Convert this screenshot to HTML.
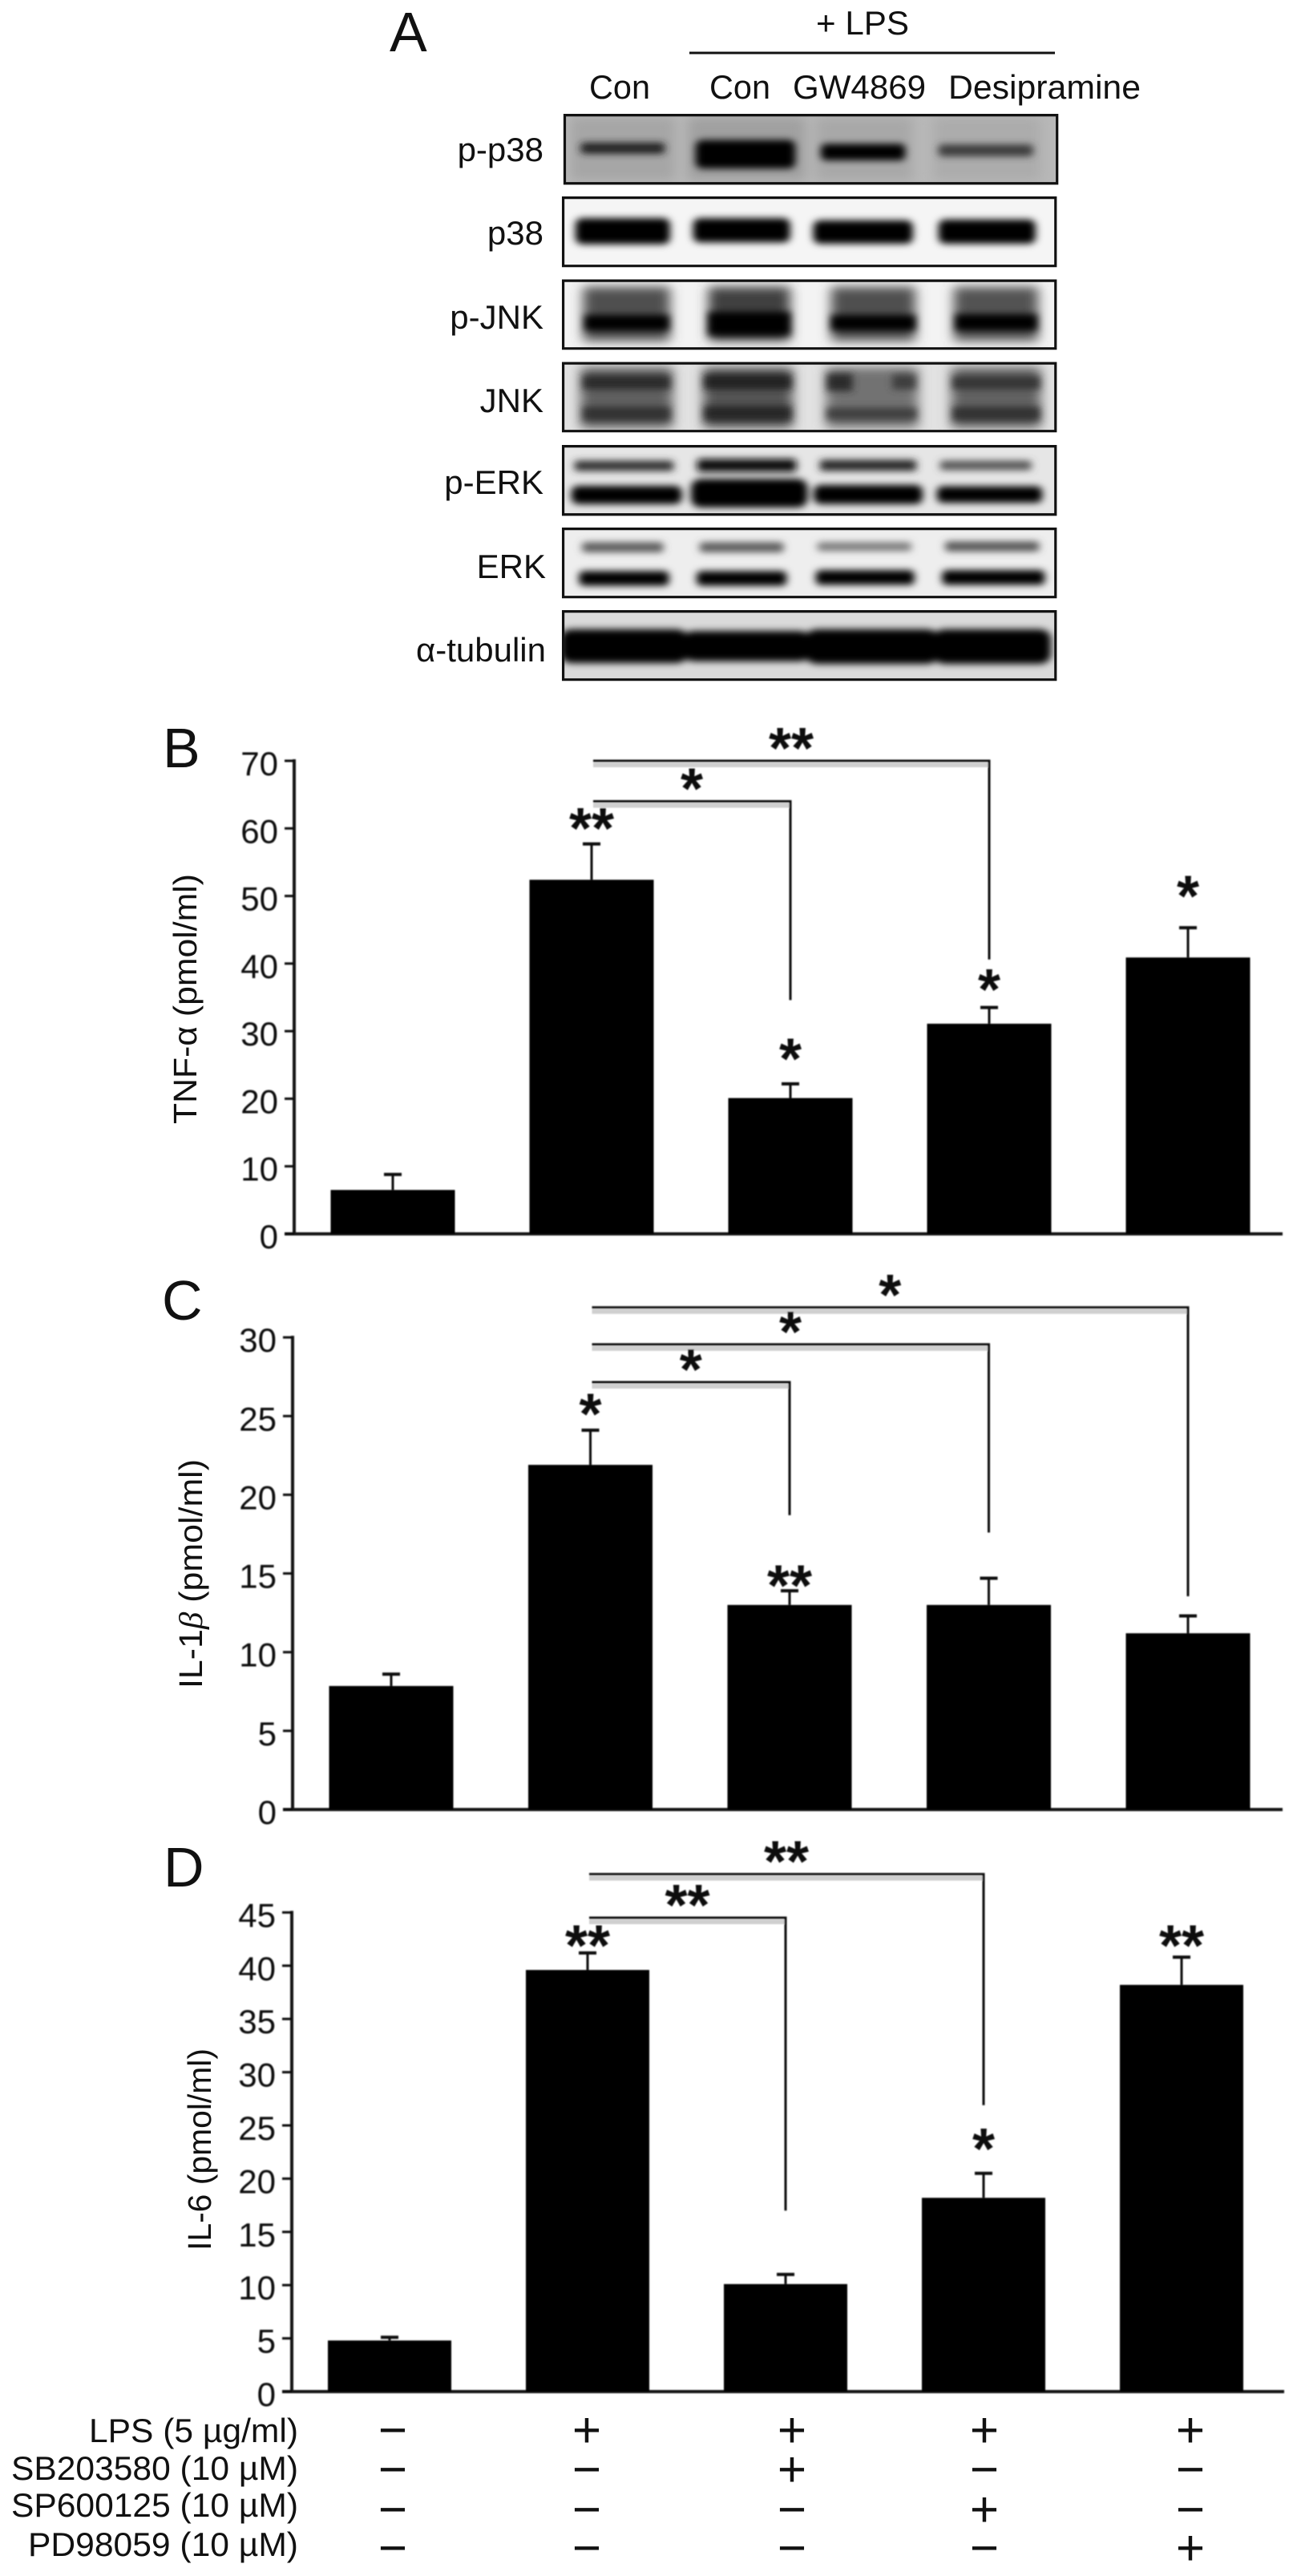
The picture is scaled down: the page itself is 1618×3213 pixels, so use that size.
<!DOCTYPE html>
<html lang="en">
<head>
<meta charset="utf-8">
<title>MAPK blots and cytokine bar charts</title>
<style>
html,body{margin:0;padding:0;background:#fff}
svg{display:block;font-family:"Liberation Sans",Arial,sans-serif}
text{fill:#111}
.axis-line{stroke:#151515;stroke-width:4;fill:none}
.thin-line{stroke:#111;stroke-width:3;fill:none}
.outline{fill:none;stroke:#111;stroke-width:3.2;vector-effect:non-scaling-stroke}
</style>
</head>
<body>
<svg id="figure" xmlns="http://www.w3.org/2000/svg" width="1618" height="3213" viewBox="0 0 1618 3213">
<defs>
  <filter id="b2" filterUnits="userSpaceOnUse" x="0" y="0" width="1618" height="1700"><feGaussianBlur stdDeviation="8"/></filter>
  <filter id="b3" filterUnits="userSpaceOnUse" x="0" y="0" width="1618" height="1700"><feGaussianBlur stdDeviation="12"/></filter>
  <filter id="soft" filterUnits="userSpaceOnUse" x="0" y="0" width="1618" height="3213"><feGaussianBlur stdDeviation="0.7"/></filter>
  <clipPath id="c1"><rect x="399" y="265" width="963" height="157"/></clipPath>
  <clipPath id="c2"><rect x="396" y="455" width="963" height="157"/></clipPath>
  <clipPath id="c3"><rect x="396" y="646" width="963" height="156"/></clipPath>
  <clipPath id="c4"><rect x="396" y="836" width="963" height="156"/></clipPath>
  <clipPath id="c5"><rect x="396" y="1027" width="963" height="157"/></clipPath>
  <clipPath id="c6"><rect x="396" y="1217" width="963" height="157"/></clipPath>
  <clipPath id="c7"><rect x="396" y="1407" width="963" height="157"/></clipPath>
</defs>

<g>
  <text x="486" y="64" font-size="70">A</text>
  <text x="1018" y="43" font-size="42" textLength="116" lengthAdjust="spacingAndGlyphs">+ LPS</text>
  <line class="thin-line" x1="860" y1="66" x2="1316" y2="66"/>
  <text x="735" y="123" font-size="42" textLength="76" lengthAdjust="spacingAndGlyphs">Con</text>
  <text x="885" y="123" font-size="42" textLength="76" lengthAdjust="spacingAndGlyphs">Con</text>
  <text x="989" y="123" font-size="42" textLength="166" lengthAdjust="spacingAndGlyphs">GW4869</text>
  <text x="1183" y="123" font-size="42" textLength="240" lengthAdjust="spacingAndGlyphs">Desipramine</text>

  <g font-size="42" text-anchor="end">
    <text x="678" y="201">p-p38</text>
    <text x="678" y="305">p38</text>
    <text x="678" y="410">p-JNK</text>
    <text x="678" y="514">JNK</text>
    <text x="678" y="616">p-ERK</text>
    <text x="681" y="721">ERK</text>
    <text x="681" y="825">α-tubulin</text>
  </g>

  <g transform="translate(450,0) scale(0.6378,0.542)">
    <g>
      <g clip-path="url(#c1)">
        <rect x="399" y="265" width="963" height="157" fill="#b8b8b8"/>
        <g filter="url(#b3)">
          <rect x="410" y="270" width="205" height="145" fill="#a6a6a6"/>
          <rect x="640" y="270" width="230" height="145" fill="#a0a0a0"/>
          <rect x="890" y="270" width="190" height="145" fill="#a8a8a8"/>
          <rect x="1120" y="270" width="210" height="145" fill="#acacac"/>
        </g>
        <g filter="url(#b2)">
          <rect x="430" y="328" width="165" height="26" rx="8" fill="#222"/>
          <rect x="655" y="322" width="195" height="66" rx="14" fill="#000"/>
          <rect x="900" y="331" width="165" height="38" rx="10" fill="#000"/>
          <rect x="1130" y="332" width="185" height="28" rx="8" fill="#3c3c3c"/>
        </g>
      </g>
      <rect class="outline" x="399" y="265" width="963" height="157"/>
    </g>
    <g>
      <g clip-path="url(#c2)">
        <rect x="396" y="455" width="963" height="157" fill="#f5f5f5"/>
        <g filter="url(#b2)">
          <rect x="420" y="502" width="185" height="60" rx="14" fill="#000"/>
          <rect x="650" y="502" width="190" height="56" rx="14" fill="#000"/>
          <rect x="885" y="507" width="195" height="54" rx="14" fill="#000"/>
          <rect x="1130" y="505" width="190" height="56" rx="14" fill="#000"/>
        </g>
      </g>
      <rect class="outline" x="396" y="455" width="963" height="157"/>
    </g>
    <g>
      <g clip-path="url(#c3)">
        <rect x="396" y="646" width="963" height="156" fill="#f3f3f3"/>
        <g filter="url(#b3)">
          <rect x="435" y="660" width="170" height="125" fill="#505050"/>
          <rect x="680" y="660" width="160" height="125" fill="#404040"/>
          <rect x="920" y="660" width="165" height="125" fill="#505050"/>
          <rect x="1160" y="660" width="165" height="125" fill="#525252"/>
        </g>
        <g filter="url(#b2)">
          <rect x="438" y="725" width="165" height="36" fill="#000"/>
          <rect x="680" y="718" width="160" height="54" fill="#000"/>
          <rect x="920" y="725" width="165" height="36" fill="#000"/>
          <rect x="1163" y="723" width="160" height="38" fill="#050505"/>
        </g>
      </g>
      <rect class="outline" x="396" y="646" width="963" height="156"/>
    </g>
    <g>
      <g clip-path="url(#c4)">
        <rect x="396" y="836" width="963" height="156" fill="#e2e2e2"/>
        <g filter="url(#b3)">
          <rect x="430" y="845" width="180" height="140" fill="#606060"/>
          <rect x="670" y="845" width="175" height="140" fill="#555"/>
          <rect x="910" y="845" width="180" height="140" fill="#727272"/>
          <rect x="1155" y="845" width="175" height="140" fill="#626262"/>
        </g>
        <g filter="url(#b2)">
          <rect x="435" y="864" width="170" height="32" fill="#2c2c2c"/>
          <rect x="435" y="936" width="170" height="32" fill="#333"/>
          <rect x="672" y="862" width="170" height="34" fill="#222"/>
          <rect x="672" y="934" width="170" height="34" fill="#282828"/>
          <rect x="912" y="860" width="50" height="40" fill="#2a2a2a"/>
          <rect x="1040" y="862" width="45" height="34" fill="#3c3c3c"/>
          <rect x="912" y="938" width="175" height="28" fill="#404040"/>
          <rect x="1158" y="866" width="170" height="30" fill="#363636"/>
          <rect x="1158" y="936" width="170" height="32" fill="#333"/>
        </g>
      </g>
      <rect class="outline" x="396" y="836" width="963" height="156"/>
    </g>
    <g>
      <g clip-path="url(#c5)">
        <rect x="396" y="1027" width="963" height="157" fill="#e6e6e6"/>
        <g filter="url(#b2)">
          <rect x="418" y="1060" width="194" height="24" rx="6" fill="#333"/>
          <rect x="658" y="1056" width="194" height="30" rx="6" fill="#111"/>
          <rect x="898" y="1058" width="189" height="26" rx="6" fill="#2a2a2a"/>
          <rect x="1133" y="1060" width="179" height="22" rx="6" fill="#555"/>
          <rect x="412" y="1118" width="216" height="42" rx="14" fill="#000"/>
          <rect x="646" y="1102" width="228" height="66" rx="20" fill="#000"/>
          <rect x="886" y="1116" width="213" height="44" rx="14" fill="#000"/>
          <rect x="1127" y="1119" width="206" height="38" rx="12" fill="#000"/>
        </g>
      </g>
      <rect class="outline" x="396" y="1027" width="963" height="157"/>
    </g>
    <g>
      <g clip-path="url(#c6)">
        <rect x="396" y="1217" width="963" height="157" fill="#eeeeee"/>
        <g filter="url(#b2)">
          <rect x="433" y="1248" width="159" height="23" rx="6" fill="#5a5a5a"/>
          <rect x="663" y="1248" width="164" height="23" rx="6" fill="#5a5a5a"/>
          <rect x="893" y="1248" width="184" height="20" rx="6" fill="#787878"/>
          <rect x="1143" y="1246" width="184" height="23" rx="6" fill="#555"/>
          <rect x="427" y="1314" width="176" height="34" rx="10" fill="#000"/>
          <rect x="657" y="1314" width="176" height="34" rx="10" fill="#000"/>
          <rect x="890" y="1312" width="193" height="34" rx="10" fill="#000"/>
          <rect x="1137" y="1312" width="201" height="34" rx="10" fill="#000"/>
        </g>
      </g>
      <rect class="outline" x="396" y="1217" width="963" height="157"/>
    </g>
    <g>
      <g clip-path="url(#c7)">
        <rect x="396" y="1407" width="963" height="157" fill="#dadada"/>
        <g filter="url(#b2)">
          <rect x="390" y="1448" width="250" height="78" rx="22" fill="#000"/>
          <rect x="630" y="1452" width="250" height="70" rx="22" fill="#000"/>
          <rect x="870" y="1448" width="260" height="80" rx="22" fill="#000"/>
          <rect x="1120" y="1448" width="230" height="80" rx="22" fill="#000"/>
        </g>
      </g>
      <rect class="outline" x="396" y="1407" width="963" height="157"/>
    </g>
  </g>
</g>

<g id="charts" filter="url(#soft)"></g>

<text x="203" y="957" font-size="70">B</text>
<text x="202" y="1646" font-size="70">C</text>
<text x="204" y="2353" font-size="70">D</text>

<text transform="translate(245,1246) rotate(-90)" font-size="41" text-anchor="middle" textLength="312" lengthAdjust="spacingAndGlyphs">TNF-α (pmol/ml)</text>
<text transform="translate(252,1963) rotate(-90)" font-size="41" text-anchor="middle" textLength="286" lengthAdjust="spacingAndGlyphs">IL-1<tspan font-style="italic" font-family="'Liberation Serif',serif">β</tspan> (pmol/ml)</text>
<text transform="translate(263,2681) rotate(-90)" font-size="41" text-anchor="middle" textLength="252" lengthAdjust="spacingAndGlyphs">IL-6 (pmol/ml)</text>

<g>
  <g font-size="42" text-anchor="end">
    <text x="372" y="3046" textLength="261" lengthAdjust="spacingAndGlyphs">LPS (5 µg/ml)</text>
    <text x="372" y="3093" textLength="358" lengthAdjust="spacingAndGlyphs">SB203580 (10 µM)</text>
    <text x="372" y="3139" textLength="358" lengthAdjust="spacingAndGlyphs">SP600125 (10 µM)</text>
    <text x="372" y="3188" textLength="337" lengthAdjust="spacingAndGlyphs">PD98059 (10 µM)</text>
  </g>
  <g font-size="62" text-anchor="middle">
    <g>
      <text x="490" y="3052">−</text><text x="732" y="3052">+</text><text x="988" y="3052">+</text><text x="1228" y="3052">+</text><text x="1485" y="3052">+</text>
    </g>
    <g>
      <text x="490" y="3101">−</text><text x="732" y="3101">−</text><text x="988" y="3101">+</text><text x="1228" y="3101">−</text><text x="1485" y="3101">−</text>
    </g>
    <g>
      <text x="490" y="3151">−</text><text x="732" y="3151">−</text><text x="988" y="3151">−</text><text x="1228" y="3151">+</text><text x="1485" y="3151">−</text>
    </g>
    <g>
      <text x="490" y="3199">−</text><text x="732" y="3199">−</text><text x="988" y="3199">−</text><text x="1228" y="3199">−</text><text x="1485" y="3199">+</text>
    </g>
  </g>
</g>
</svg>

<script>
var tnfTicks = ['0','10','20','30','40','50','60','70'];
var tnfValues = [6.5, 52.4, 20.1, 31.1, 40.9];
var tnfSems = [2.3, 5.3, 2.1, 2.4, 4.4];
var tnfStars = ['', '**', '*', '*', '*'];
var tnfStarLevels = [0, 60.6, 26.5, 36.8, 50.6];
var tnfBracketFrom = [1, 1];
var tnfBracketTo = [3, 2];
var tnfBracketLevel = [70, 64];
var tnfBracketDrop = [40.6, 34.6];
var tnfBracketMarks = ['**', '*'];

var il1Ticks = ['0','5','10','15','20','25','30'];
var il1Values = [7.85, 21.9, 13.0, 13.0, 11.2];
var il1Sems = [0.75, 2.2, 0.9, 1.7, 1.1];
var il1Stars = ['', '*', '**', '', ''];
var il1StarLevels = [0, 25.4, 14.5, 0, 0];
var il1BracketFrom = [1, 1, 1];
var il1BracketTo = [4, 3, 2];
var il1BracketLevel = [31.9, 29.55, 27.15];
var il1BracketDrop = [13.55, 17.6, 18.7];
var il1BracketMarks = ['*', '*', '*'];

var il6Ticks = ['0','5','10','15','20','25','30','35','40','45'];
var il6Values = [4.8, 39.6, 10.1, 18.2, 38.2];
var il6Sems = [0.3, 1.6, 0.9, 2.3, 2.6];
var il6Stars = ['', '**', '', '*', '**'];
var il6StarLevels = [0, 42.3, 0, 23.2, 42.3];
var il6BracketFrom = [1, 1];
var il6BracketTo = [3, 2];
var il6BracketLevel = [48.6, 44.5];
var il6BracketDrop = [26.9, 17];
var il6BracketMarks = ['**', '**'];

var NS = 'http://www.w3.org/2000/svg';
var chartsRoot = document.getElementById('charts');

function make(parent, tag, attrs, txt) {
  var el = document.createElementNS(NS, tag);
  for (var k in attrs) { el.setAttribute(k, attrs[k]); }
  if (txt !== undefined) { el.textContent = txt; }
  parent.appendChild(el);
  return el;
}

function drawChart(id, s, ticks, values, sems, stars, starLevels, bFrom, bTo, bLevel, bDrop, bMarks) {
  var g = make(chartsRoot, 'g', {});
  
  

  var yScale = function (v) { return s.y0 - v * s.unit; };
  var xBand = function (i) { return s.first + i * s.step; };
  var maxTick = Number(ticks[ticks.length - 1]);

  var yAxis = make(g, 'line', {x1: s.axisX, y1: yScale(maxTick) - 2, x2: s.axisX, y2: s.y0 + 2, 'class': 'axis-line'});
  
  

  var xAxis = make(g, 'line', {x1: s.axisX - 12, y1: s.y0, x2: s.axisEnd, y2: s.y0, 'class': 'axis-line'});
  
  

  ticks.forEach(function (t) {
    var y = yScale(Number(t));
    var mark = make(g, 'line', {x1: s.axisX - 12, y1: y, x2: s.axisX, y2: y, 'class': 'thin-line'});
    
    
    var label = make(g, 'text', {x: s.axisX - 20, y: y + 18, 'font-size': 42, 'text-anchor': 'end'}, t);
    
    
  });

  values.forEach(function (v, i) {
    var cx = xBand(i);
    var top = yScale(v);
    var errTop = yScale(v + sems[i]);
    var bar = make(g, 'rect', {x: cx - s.barW / 2, y: top, width: s.barW, height: s.y0 - top, fill: '#000'});
    
    
    var stem = make(g, 'line', {x1: cx, y1: top, x2: cx, y2: errTop, 'class': 'thin-line'});
    
    
    var cap = make(g, 'line', {x1: cx - 11, y1: errTop, x2: cx + 11, y2: errTop, stroke: '#111', 'stroke-width': 4});
    
    
    if (stars[i]) {
      var star = make(g, 'text', {x: cx, y: yScale(starLevels[i]) + 30, 'font-size': 72, 'font-weight': 'bold', 'text-anchor': 'middle'}, stars[i]);
      
      
    }
  });

  bFrom.forEach(function (from, i) {
    var xa = xBand(from) + 2;
    var xb = xBand(bTo[i]);
    var ya = yScale(bLevel[i]);
    var yb = yScale(bDrop[i]);
    var shade = make(g, 'line', {x1: xa, y1: ya + 5, x2: xb, y2: ya + 5, stroke: '#cfcfcf', 'stroke-width': 6});
    
    
    var path = make(g, 'polyline', {points: xa + ',' + ya + ' ' + xb + ',' + ya + ' ' + xb + ',' + yb, 'class': 'thin-line'});
    
    
    var note = make(g, 'text', {x: (xa + xb) / 2, y: ya - 21 + 30, 'font-size': 72, 'font-weight': 'bold', 'text-anchor': 'middle'}, bMarks[i]);
    
    
  });
}

drawChart('tnf', {y0: 1539, unit: 8.429, axisX: 367, axisEnd: 1600, first: 490, step: 248, barW: 155},
  tnfTicks, tnfValues, tnfSems, tnfStars, tnfStarLevels, tnfBracketFrom, tnfBracketTo, tnfBracketLevel, tnfBracketDrop, tnfBracketMarks);
drawChart('il1', {y0: 2257, unit: 19.63, axisX: 365, axisEnd: 1600, first: 488, step: 248.5, barW: 155},
  il1Ticks, il1Values, il1Sems, il1Stars, il1StarLevels, il1BracketFrom, il1BracketTo, il1BracketLevel, il1BracketDrop, il1BracketMarks);
drawChart('il6', {y0: 2983, unit: 13.28, axisX: 364, axisEnd: 1602, first: 486, step: 247, barW: 154},
  il6Ticks, il6Values, il6Sems, il6Stars, il6StarLevels, il6BracketFrom, il6BracketTo, il6BracketLevel, il6BracketDrop, il6BracketMarks);
</script>
</body>
</html>
